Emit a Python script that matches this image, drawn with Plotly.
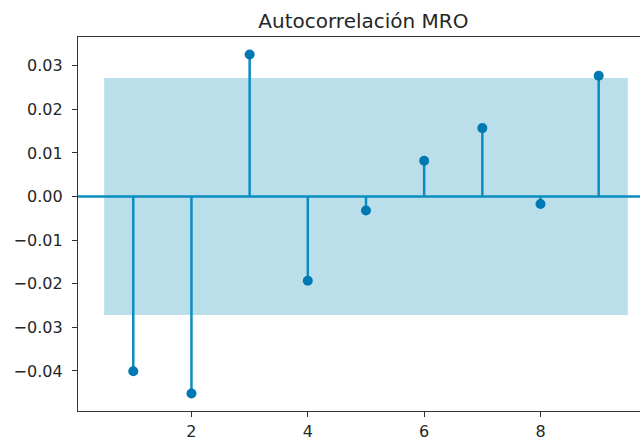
import plotly.graph_objects as go

# Autocorrelation of the MRO series, lags 1..9
lags = [1, 2, 3, 4, 5, 6, 7, 8, 9]
acf_values = [-0.0401, -0.0452, 0.0326, -0.0193, -0.0032, 0.0082, 0.0157, -0.0017, 0.0277]
conf_limit = 0.0272

y_ticks = [-0.04, -0.03, -0.02, -0.01, 0.00, 0.01, 0.02, 0.03]
y_tick_text = ["\u22120.04", "\u22120.03", "\u22120.02", "\u22120.01", "0.00", "0.01", "0.02", "0.03"]
x_ticks = [2, 4, 6, 8]

stem_color = "#0a8dc0"
marker_color = "#0079b3"
band_color = "#badfea"

fig = go.Figure()

# Confidence band, widened by half a lag at each end
band_x = [lags[0] - 0.5] + lags[1:-1] + [lags[-1] + 0.5]
fig.add_trace(go.Scatter(
    x=band_x + band_x[::-1],
    y=[conf_limit] * len(band_x) + [-conf_limit] * len(band_x),
    fill="toself", fillcolor=band_color, line=dict(width=0),
    mode="lines", hoverinfo="skip", showlegend=False,
))

# Zero line
fig.add_trace(go.Scatter(
    x=[0, 11], y=[0, 0], mode="lines",
    line=dict(color=stem_color, width=2.5), showlegend=False, hoverinfo="skip",
))

# Stems
stem_x, stem_y = [], []
for lag, val in zip(lags, acf_values):
    stem_x += [lag, lag, None]
    stem_y += [0, val, None]
fig.add_trace(go.Scatter(
    x=stem_x, y=stem_y, mode="lines",
    line=dict(color=stem_color, width=2.5), showlegend=False, hoverinfo="skip",
))

# Markers
fig.add_trace(go.Scatter(
    x=lags, y=acf_values, mode="markers",
    marker=dict(color=marker_color, size=10), showlegend=False,
))

font_family = "DejaVu Sans"
fig.update_layout(
    width=640, height=441,
    margin=dict(l=78, r=0, t=37, b=28),
    paper_bgcolor="white", plot_bgcolor="white",
    font=dict(family=font_family, size=16, color="#262626"),
    title=dict(text="Autocorrelación MRO", x=363.4 / 640, xref="container", xanchor="center",
               y=1 - 21 / 441, yref="container", yanchor="middle",
               font=dict(family=font_family, size=20, color="#262626")),
)
fig.update_xaxes(
    range=[0.05, 9.71], tickvals=x_ticks, ticktext=[str(t) for t in x_ticks],
    showgrid=False, zeroline=False, showline=True, mirror=True,
    linecolor="#333333", linewidth=1.3, ticks="outside", ticklen=5, tickcolor="#333333",
    tickfont=dict(size=16), ticklabelstandoff=1,
)
fig.update_yaxes(
    range=[-0.0492, 0.0366], tickvals=y_ticks, ticktext=y_tick_text,
    showgrid=False, zeroline=False, showline=True, mirror=False,
    linecolor="#333333", linewidth=1.3, ticks="outside", ticklen=5, tickcolor="#333333",
    tickfont=dict(size=16), ticklabelstandoff=6,
)

fig.write_html("out.html")
